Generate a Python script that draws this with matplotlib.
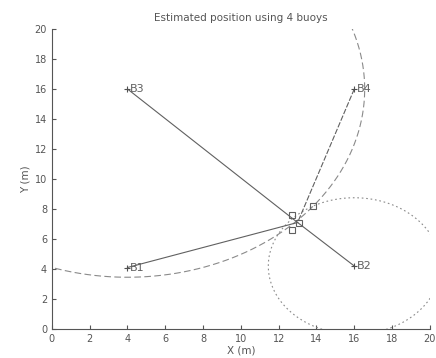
import numpy as np
import matplotlib
matplotlib.use("Agg")
import matplotlib.pyplot as plt

buoy_names = ["B1", "B2", "B3", "B4"]
buoy_x = [4.0, 16.0, 4.0, 16.0]
buoy_y = [4.1, 4.2, 16.0, 16.0]
est_x, est_y = 13.0, 7.1
# measured ranges drawn as circles (buoy index, radius)
circle_buoy = [2, 1]
circle_radius = [12.55, 4.55]
circle_style = [(0, (6, 3)), (0, (1.5, 2.5))]
# candidate intersection points
cand_x = [12.7, 12.7, 13.8, 13.1]
cand_y = [7.6, 6.6, 8.2, 7.1]

fig = plt.figure(figsize=(4.36, 3.58), dpi=100)
ax = fig.add_axes([0.119, 0.081, 0.867, 0.838])

t = np.linspace(0, 2 * np.pi, 600)
for bi, r, ls in zip(circle_buoy, circle_radius, circle_style):
    ax.plot(buoy_x[bi] + r * np.cos(t), buoy_y[bi] + r * np.sin(t),
            color="#8a8a8a", lw=0.8, linestyle=ls)

line_styles = ["-", "-", "-", (0, (5, 1.5))]
for bx, by, ls in zip(buoy_x, buoy_y, line_styles):
    ax.plot([bx, est_x], [by, est_y], color="#606060", lw=0.8, linestyle=ls)

ax.plot(buoy_x, buoy_y, "+", color="#505050", ms=5, mew=0.8)
for n, bx, by in zip(buoy_names, buoy_x, buoy_y):
    ax.text(bx + 0.15, by, n, fontsize=8, color="#606060", va="center", ha="left")

ax.plot(cand_x, cand_y, "s", mfc="none", mec="#606060", ms=5, mew=0.8)

ax.set_xlim(0, 20)
ax.set_ylim(0, 20)
ax.set_xticks(range(0, 21, 2))
ax.set_yticks(range(0, 21, 2))
for s in ["top", "right"]:
    ax.spines[s].set_visible(False)
for s in ["left", "bottom"]:
    ax.spines[s].set_color("#555555")
    ax.spines[s].set_linewidth(0.8)
ax.tick_params(direction="in", length=3, labelsize=7, colors="#555555")
ax.set_title("Estimated position using 4 buoys", fontsize=7.5, color="#555555", pad=6)
ax.set_xlabel("X (m)", fontsize=7.5, color="#555555", labelpad=1)
ax.set_ylabel("Y (m)", fontsize=7.5, color="#555555", labelpad=3)

fig.savefig("out.png", dpi=100)
